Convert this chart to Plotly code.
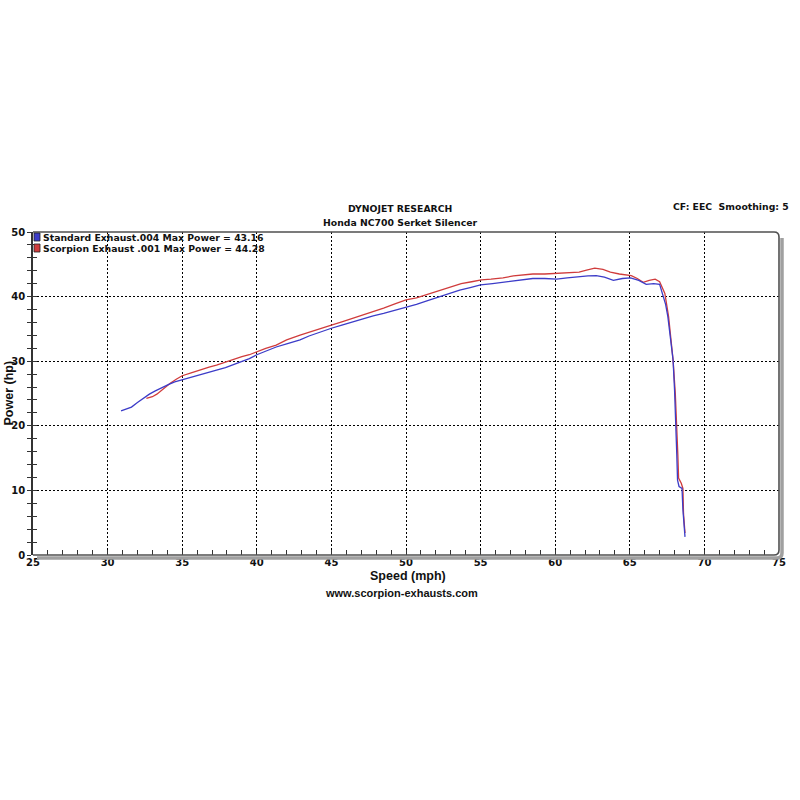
import plotly.graph_objects as go

# ---------------- data ----------------
std_speed = [30.9, 31.3, 31.6, 32.0, 32.4, 32.8, 33.2, 33.6, 34.1, 34.5, 35.0, 35.6, 36.2, 36.8,
             37.3, 37.9, 38.4, 39.0, 39.5, 40.0, 40.6, 41.3, 42.0, 42.9, 43.5, 44.2, 45.0, 45.7,
             46.4, 47.1, 47.8, 48.5, 49.3, 50.0, 50.7, 51.5, 52.3, 53.0, 53.6, 54.3, 55.0, 55.8,
             56.5, 57.2, 57.9, 58.5, 59.3, 60.1, 60.8, 61.6, 62.2, 62.75, 63.3, 63.9, 64.5, 65.05,
             65.6, 66.1, 66.6, 67.0, 67.2, 67.4, 67.55, 67.75, 67.9, 68.0, 68.1, 68.15, 68.2, 68.3,
             68.5, 68.56, 68.7]
std_power = [22.3, 22.6, 22.9, 23.6, 24.3, 24.9, 25.4, 25.9, 26.4, 26.8, 27.1, 27.5, 27.9, 28.3,
             28.6, 29.0, 29.4, 29.9, 30.4, 31.0, 31.6, 32.2, 32.7, 33.3, 33.9, 34.5, 35.1, 35.6,
             36.1, 36.6, 37.0, 37.4, 37.9, 38.4, 38.8, 39.4, 40.0, 40.5, 41.0, 41.4, 41.8, 42.0,
             42.2, 42.5, 42.7, 42.8, 42.8, 42.7, 42.9, 43.1, 43.2, 43.25, 43.0, 42.5, 42.8, 42.9,
             42.5, 41.9, 42.0, 41.9, 40.5, 38.8, 36.9, 33.5, 30.2, 25.5, 20.4, 15.5, 11.6, 10.6,
             10.3, 7.0, 2.8]

scp_speed = [32.6, 33.0, 33.3, 33.6, 33.9, 34.2, 34.6, 35.0, 35.6, 36.2, 36.8, 37.3, 37.9, 38.4,
             39.0, 39.5, 40.0, 40.6, 41.3, 42.0, 42.9, 43.6, 44.3, 45.0, 45.7, 46.4, 47.1, 47.8,
             48.5, 49.3, 50.0, 50.7, 51.5, 52.3, 53.0, 53.7, 54.4, 55.05, 55.7, 56.5, 57.2, 57.9,
             58.5, 59.3, 60.1, 60.8, 61.6, 62.1, 62.65, 63.2, 63.7, 64.3, 64.7, 65.1, 65.5, 65.9,
             66.3, 66.7, 67.0, 67.35, 67.6, 67.75, 67.9, 68.05, 68.15, 68.22, 68.27, 68.45, 68.56,
             68.6, 68.7]
scp_power = [24.25, 24.5, 24.9, 25.5, 26.1, 26.6, 27.2, 27.75, 28.2, 28.7, 29.1, 29.4, 29.9, 30.3,
             30.7, 31.0, 31.45, 32.0, 32.5, 33.3, 34.05, 34.6, 35.1, 35.6, 36.1, 36.6, 37.15, 37.6,
             38.2, 38.9, 39.5, 39.8, 40.4, 41.0, 41.5, 42.0, 42.3, 42.6, 42.7, 42.9, 43.2, 43.4,
             43.5, 43.5, 43.6, 43.7, 43.8, 44.1, 44.4, 44.2, 43.8, 43.5, 43.4, 43.25, 42.8, 42.2,
             42.5, 42.7, 42.3, 40.5, 36.9, 33.5, 30.2, 25.0, 20.4, 15.5, 11.9, 11.1, 10.3,
             6.4, 3.4]

series_names = ["Standard Exhaust.004", "Scorpion Exhaust .001"]
max_power = [43.16, 44.28]
series_colors = ["#3c3cc8", "#d03c3c"]

x_ticks = [25, 30, 35, 40, 45, 50, 55, 60, 65, 70, 75]
y_ticks = [0, 10, 20, 30, 40, 50]

# ---------------- layout helpers (pixel -> paper) ----------------
L, R, T, B = 33, 779, 232, 555
def px(x):
    return (x - L) / (R - L)
def py(y):
    return (B - y) / (B - T)

FONT = "Verdana, 'DejaVu Sans', sans-serif"
ARIAL = "'Liberation Sans', Arial, sans-serif"

fig = go.Figure()
fig.add_trace(go.Scatter(x=scp_speed, y=scp_power, mode="lines", name=series_names[1],
                         line=dict(color=series_colors[1], width=1.3), showlegend=False))
fig.add_trace(go.Scatter(x=std_speed, y=std_power, mode="lines", name=series_names[0],
                         line=dict(color=series_colors[0], width=1.3), showlegend=False))

grid = dict(showgrid=True, gridcolor="#000000", gridwidth=1, griddash="2px,2px")
tickfont = dict(family=FONT, size=10, weight="bold", color="#111")

fig.update_layout(
    width=800, height=800,
    margin=dict(l=L, r=800 - R, t=T, b=800 - B, pad=0, autoexpand=False),
    paper_bgcolor="white", plot_bgcolor="white",
    font=dict(family=FONT, size=9.3, color="#111"),
    xaxis=dict(range=[25, 75], tickvals=x_ticks, ticks="inside", ticklen=5, tickcolor="#333",
               tickwidth=1, minor=dict(dtick=1, ticks="inside", ticklen=5, tickcolor="#333",
                                       showgrid=False),
               tickfont=tickfont, zeroline=False, showline=False, automargin=False, **grid),
    yaxis=dict(range=[0, 50], tickvals=y_ticks, ticks="outside", ticklen=4, tickcolor="#333",
               tickwidth=1, minor=dict(dtick=2, ticks="outside", ticklen=4, tickcolor="#333",
                                       showgrid=False),
               tickfont=tickfont, zeroline=False, showline=True, linecolor="#333",
               linewidth=1.5, automargin=False, **grid),
    yaxis2=dict(range=[0, 50], overlaying="y", anchor="x", side="left", dtick=2, ticks="inside",
                ticklen=4, tickcolor="#333", showticklabels=False, showgrid=False,
                zeroline=False, showline=False, automargin=False),
)

# invisible trace to activate yaxis2
fig.add_trace(go.Scatter(x=[25], y=[0], yaxis="y2", mode="markers", marker=dict(opacity=0),
                         showlegend=False, hoverinfo="skip"))

shapes = []
rr = 5  # corner radius in px
sh = 3
shadow_path = (f"M {px(R+sh)},{py(T+6)} L {px(R+sh)},{py(B+sh-rr)} "
               f"Q {px(R+sh)},{py(B+sh)} {px(R+sh-rr)},{py(B+sh)} L {px(L+4)},{py(B+sh)}")
shapes.append(dict(type="path", xref="paper", yref="paper", path=shadow_path,
                   line=dict(color="#a0a0a0", width=3.5), layer="above"))
frame_path = (f"M {px(L)},{py(T)} L {px(R-rr)},{py(T)} Q {px(R)},{py(T)} {px(R)},{py(T+rr)} "
              f"L {px(R)},{py(B-rr)} Q {px(R)},{py(B)} {px(R-rr)},{py(B)} L {px(L)},{py(B)}")
shapes.append(dict(type="path", xref="paper", yref="paper", path=frame_path,
                   line=dict(color="#505050", width=1.6), layer="above"))

for i, c in enumerate(series_colors):
    y0 = 233 + i * 11
    shapes.append(dict(type="rect", xref="paper", yref="paper",
                       x0=px(34), x1=px(40), y0=py(y0), y1=py(y0 + 8),
                       fillcolor=c, line=dict(color="#222", width=0.8), layer="above"))
fig.update_layout(shapes=shapes)

ann = []
for i, (n, m) in enumerate(zip(series_names, max_power)):
    ann.append(dict(x=px(41), y=py(237.5 + i * 11), text=f"<b>{n} Max Power = {m:.2f}</b>",
                    xanchor="left"))
ann += [
    dict(x=px(400), y=py(208), text="<b>DYNOJET RESEARCH</b>"),
    dict(x=px(400), y=py(222), text="<b>Honda NC700 Serket Silencer</b>"),
    dict(x=px(791), y=py(206), text="<b>CF: EEC  Smoothing: 5</b>", xanchor="right"),
    dict(x=px(408), y=py(576), text="<b>Speed (mph)</b>",
         font=dict(family=ARIAL, size=12.5, color="#111")),
    dict(x=px(401), y=py(593), text="<b>www.scorpion-exhausts.com</b>",
         font=dict(family=ARIAL, size=11, color="#111")),
    dict(x=px(8.5), y=py(393), text="<b>Power (hp)</b>", textangle=-90,
         font=dict(family=ARIAL, size=12.5, color="#111")),
]
for a in ann:
    a.setdefault("xref", "paper")
    a.setdefault("yref", "paper")
    a.setdefault("showarrow", False)
    a.setdefault("xanchor", "center")
    a.setdefault("yanchor", "middle")
    a.setdefault("font", dict(family=FONT, size=9.3, color="#111"))
fig.update_layout(annotations=ann)

fig.write_html("out.html", config={"displayModeBar": False},
               post_script="document.body.style.margin='0px';document.body.style.padding='0px';")
